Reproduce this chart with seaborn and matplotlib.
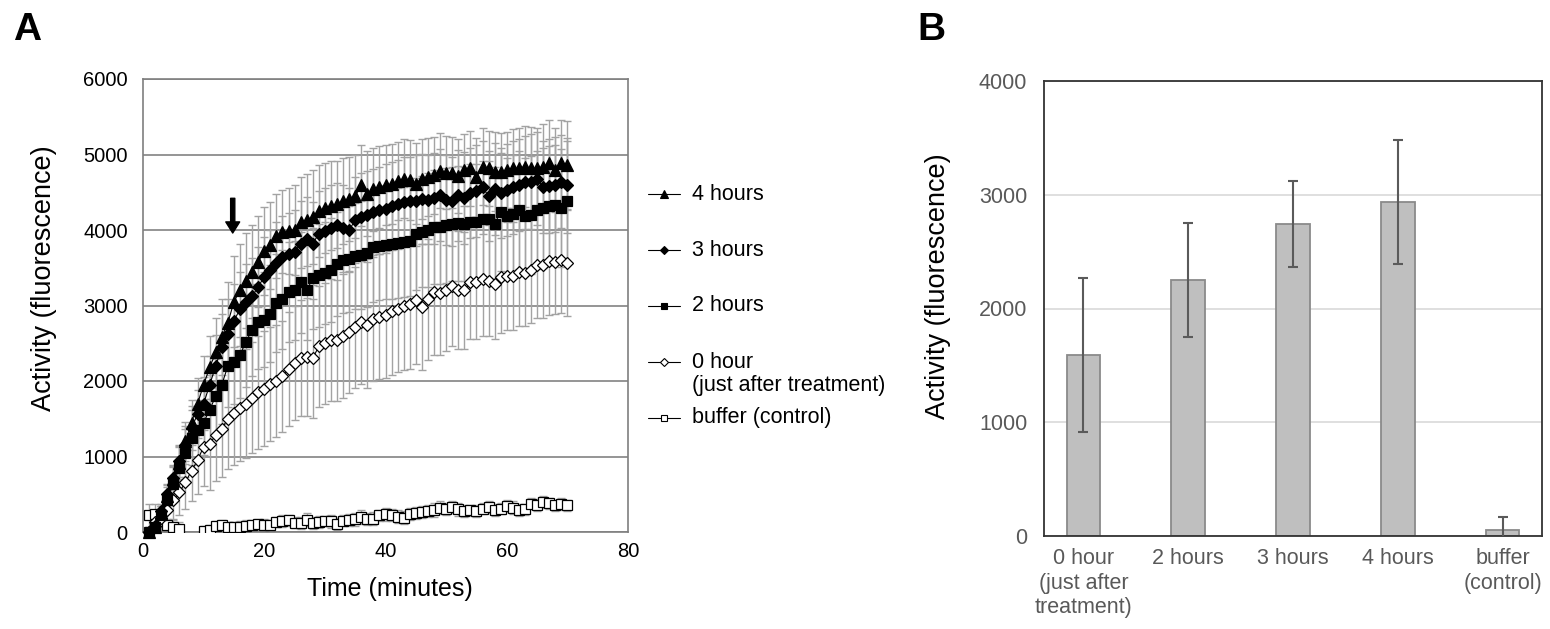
import matplotlib
matplotlib.use("Agg")
import matplotlib.pyplot as plt
import pandas as pd
import seaborn as sns

# ---- panel A: activity time course (one reading per minute) ----
minutes = list(range(1, 71))

act_4h = [0, 60, 250, 480, 700, 920, 1200, 1450, 1700, 1950,
          2180, 2380, 2580, 2770, 3050, 3200, 3330, 3450, 3580, 3720,
          3800, 3920, 3975, 3990, 4000, 4100, 4130, 4170, 4250, 4290,
          4320, 4340, 4380, 4410, 4450, 4590, 4480, 4540, 4570, 4590,
          4610, 4650, 4680, 4660, 4614, 4680, 4700, 4724, 4786, 4760,
          4760, 4715, 4794, 4817, 4697, 4839, 4817, 4772, 4772, 4794,
          4817, 4817, 4839, 4817, 4817, 4839, 4883, 4794, 4883, 4861]
act_3h = [0, 80, 280, 500, 720, 940, 1150, 1380, 1560, 1700,
          1950, 2200, 2450, 2620, 2800, 2950, 3050, 3120, 3250, 3380,
          3470, 3560, 3640, 3680, 3710, 3820, 3880, 3820, 3950, 3990,
          4020, 4060, 4020, 4000, 4130, 4170, 4200, 4240, 4260, 4280,
          4320, 4340, 4370, 4380, 4390, 4410, 4400, 4420, 4460, 4400,
          4380, 4460, 4420, 4490, 4520, 4565, 4450, 4540, 4490, 4530,
          4565, 4600, 4630, 4640, 4680, 4570, 4580, 4600, 4640, 4590]
act_2h = [0, 60, 220, 430, 640, 850, 1050, 1250, 1350, 1450,
          1620, 1800, 1950, 2200, 2250, 2350, 2520, 2680, 2780, 2810,
          2890, 3030, 3080, 3180, 3200, 3310, 3200, 3360, 3400, 3430,
          3470, 3550, 3600, 3620, 3660, 3670, 3690, 3770, 3790, 3800,
          3820, 3830, 3840, 3860, 3950, 3980, 4000, 4040, 4035, 4060,
          4080, 4090, 4080, 4100, 4110, 4140, 4140, 4080, 4240, 4190,
          4210, 4260, 4180, 4200, 4260, 4290, 4320, 4330, 4290, 4380]
act_0h = [0, 130, 180, 290, 420, 530, 660, 810, 950, 1130,
          1160, 1290, 1370, 1500, 1580, 1640, 1700, 1780, 1850, 1900,
          1960, 2000, 2060, 2160, 2240, 2300, 2320, 2300, 2460, 2500,
          2540, 2540, 2600, 2650, 2710, 2780, 2740, 2820, 2850, 2880,
          2930, 2960, 2990, 3020, 3070, 2980, 3080, 3180, 3170, 3200,
          3260, 3210, 3200, 3310, 3310, 3350, 3330, 3290, 3380, 3390,
          3390, 3440, 3430, 3470, 3530, 3530, 3590, 3580, 3600, 3560]
act_buf = [220, 240, 150, 88, 60, 44, -150, -150, -150, 13,
           22, 80, 88, 66, 66, 70, 79, 90, 101, 95,
           88, 132, 140, 154, 125, 119, 163, 119, 130, 146,
           140, 110, 150, 163, 170, 199, 177, 177, 220, 234,
           221, 200, 190, 240, 252, 265, 274, 290, 322, 310,
           331, 300, 278, 285, 278, 310, 331, 296, 310, 340,
           320, 287, 300, 375, 360, 397, 380, 353, 370, 353]

err_4h = [20, 60, 100, 140, 180, 220, 260, 300, 340, 380,
          420, 460, 500, 540, 600, 620, 630, 620, 600, 580,
          575, 560, 550, 570, 590, 600, 610, 620, 610, 600,
          590, 580, 570, 560, 550, 540, 560, 550, 540, 530,
          530, 520, 520, 530, 540, 530, 520, 510, 500, 480,
          470, 490, 480, 500, 520, 510, 500, 520, 510, 500,
          520, 530, 540, 550, 540, 560, 580, 560, 570, 580]
err_3h = [20, 50, 90, 130, 170, 210, 250, 290, 320, 350,
          380, 410, 440, 460, 480, 490, 500, 510, 520, 530,
          530, 540, 540, 550, 550, 560, 560, 550, 560, 570,
          570, 560, 570, 560, 570, 580, 580, 570, 580, 590,
          580, 590, 600, 590, 600, 600, 590, 600, 610, 600,
          590, 600, 610, 600, 610, 620, 600, 610, 600, 610,
          620, 610, 620, 630, 620, 610, 620, 630, 620, 630]
err_2h = [30, 70, 120, 170, 220, 270, 320, 360, 400, 430,
          460, 490, 520, 540, 560, 580, 600, 610, 620, 630,
          640, 650, 650, 660, 660, 670, 660, 670, 680, 680,
          690, 690, 700, 700, 700, 710, 710, 720, 720, 720,
          730, 730, 730, 740, 740, 740, 750, 750, 750, 760,
          760, 760, 760, 770, 770, 770, 770, 760, 780, 770,
          780, 780, 770, 780, 780, 790, 790, 790, 780, 800]
err_0h = [60, 120, 160, 200, 250, 300, 350, 400, 450, 520,
          600, 620, 640, 660, 690, 700, 720, 730, 750, 760,
          760, 740, 735, 750, 760, 770, 780, 790, 800, 800,
          810, 800, 820, 810, 800, 820, 830, 820, 830, 840,
          850, 840, 850, 860, 850, 830, 800, 840, 820, 800,
          790, 780, 770, 760, 750, 760, 740, 730, 740, 720,
          720, 710, 700, 700, 690, 700, 710, 690, 700, 700]
err_buf = [150, 130, 110, 90, 100, 90, 80, 80, 80, 60,
           70, 60, 65, 70, 60, 70, 75, 65, 70, 80,
           75, 70, 80, 75, 70, 80, 85, 75, 80, 70,
           85, 80, 75, 80, 85, 90, 80, 85, 75, 90,
           80, 85, 90, 80, 85, 75, 80, 90, 85, 80,
           75, 85, 80, 70, 80, 75, 85, 80, 75, 80,
           85, 80, 75, 70, 80, 85, 75, 70, 80, 75]

legend_labels = ["4 hours", "3 hours", "2 hours",
                 "0 hour\n(just after treatment)", "buffer (control)"]

# arrow marking the 15 min reading
arrow_time = 14.8
arrow_from, arrow_to = 4420, 3960

# ---- panel B: activity at 15 min ----
groups = ["0 hour\n(just after\ntreatment)", "2 hours", "3 hours", "4 hours", "buffer\n(control)"]
bar_means = [1590, 2250, 2745, 2937, 53]
bar_sd = [677, 498, 378, 548, 111]

sns.set_style("white")
plt.rcParams["font.family"] = ["Liberation Sans", "DejaVu Sans"]
plt.rcParams["text.color"] = "black"
plt.rcParams["axes.labelcolor"] = "black"

fig = plt.figure(figsize=(15.5, 6.29), dpi=100)
axA = fig.add_axes([143 / 1550, 1 - 532 / 629, 485 / 1550, 453 / 629])
axB = fig.add_axes([1044 / 1550, 1 - 536 / 629, 498 / 1550, 455 / 629])

# series drawn bottom to top: (values, errors, marker, face, size)
series = [
    (act_buf, err_buf, "s", "white", 7.0),
    (act_0h, err_0h, "D", "white", 6.2),
    (act_2h, err_2h, "s", "black", 6.8),
    (act_3h, err_3h, "D", "black", 6.2),
    (act_4h, err_4h, "^", "black", 9.0),
]

for vals, errs, mk, fc, ms in series:
    axA.errorbar(minutes, vals, yerr=errs, fmt="none", ecolor="#a3a3a3",
                 elinewidth=1.0, capsize=3.2, capthick=1.0, zorder=2)

for i, (vals, errs, mk, fc, ms) in enumerate(series):
    sns.lineplot(x=minutes, y=vals, ax=axA, estimator=None, color="black",
                 linewidth=0.8, marker=mk, markersize=ms, markerfacecolor=fc,
                 markeredgecolor="black", markeredgewidth=0.9,
                 clip_on=(i == 0), zorder=3 + i)

axA.annotate("", xy=(arrow_time, arrow_to), xytext=(arrow_time, arrow_from),
             arrowprops=dict(facecolor="black", edgecolor="black", width=3,
                             headwidth=10, headlength=8, shrink=0), zorder=10)

axA.set_xlim(0, 80)
axA.set_ylim(0, 6000)
axA.set_xticks([0, 20, 40, 60, 80])
axA.set_yticks(range(0, 6001, 1000))
axA.yaxis.grid(True, color="#8c8c8c", linewidth=1.3)
axA.set_axisbelow(True)
for sp in axA.spines.values():
    sp.set_color("#7f7f7f")
    sp.set_linewidth(1.2)
axA.tick_params(axis="both", labelsize=14.5, colors="#7f7f7f", labelcolor="black",
                direction="out", length=4, width=1.0)
axA.tick_params(axis="y", pad=7)
axA.tick_params(axis="x", pad=3)
axA.set_xlabel("Time (minutes)", fontsize=18)
axA.set_ylabel("Activity (fluorescence)", fontsize=19.5)
axA.xaxis.set_label_coords(0.509, -0.100)
axA.yaxis.set_label_coords(-0.178, 0.56)

# legend drawn beside panel A
leg_rows = [0.746, 0.6225, 0.499, 0.375, 0.2517]
for lab, y, (vals, errs, mk, fc, ms) in zip(legend_labels, leg_rows, series[::-1]):
    axA.plot([1.041, 1.107], [y, y], transform=axA.transAxes, color="black",
             linewidth=0.8, clip_on=False)
    axA.plot([1.074], [y], transform=axA.transAxes, marker=mk, markersize=ms * 0.7,
             markerfacecolor=fc, markeredgecolor="black", markeredgewidth=0.8,
             clip_on=False)
    for j, line in enumerate(lab.split("\n")):
        axA.text(1.132, y - j * 0.051, line, transform=axA.transAxes,
                 va="center", ha="left", fontsize=15.5)

# ---- panel B ----
df_b = pd.DataFrame({"group": groups, "activity": bar_means})
sns.barplot(data=df_b, x="group", y="activity", ax=axB, color="#bfbfbf",
            saturation=1, edgecolor="#8a8a8a", linewidth=1.3, width=0.32,
            errorbar=None)
axB.errorbar(range(len(groups)), bar_means, yerr=bar_sd, fmt="none",
             ecolor="#5a5a5a", elinewidth=1.5, capsize=3.8, capthick=1.5, zorder=5)
axB.set_ylim(0, 4000)
axB.set_yticks(range(0, 4001, 1000))
axB.yaxis.grid(True, color="#dcdcdc", linewidth=1.3)
axB.set_axisbelow(True)
for sp in axB.spines.values():
    sp.set_color("#333333")
    sp.set_linewidth(1.3)
axB.tick_params(axis="both", labelsize=15.5, labelcolor="#595959", length=0)
axB.tick_params(axis="x", pad=9)
axB.tick_params(axis="y", pad=12)
axB.set_xlabel("")
axB.set_ylabel("Activity (fluorescence)", fontsize=19.5)
axB.yaxis.set_label_coords(-0.187, 0.55)

fig.text(13 / 1550, 1 - 40 / 629, "A", fontsize=28, fontweight="bold")
fig.text(917 / 1550, 1 - 40 / 629, "B", fontsize=28, fontweight="bold")

fig.savefig("out.png", dpi=100)
